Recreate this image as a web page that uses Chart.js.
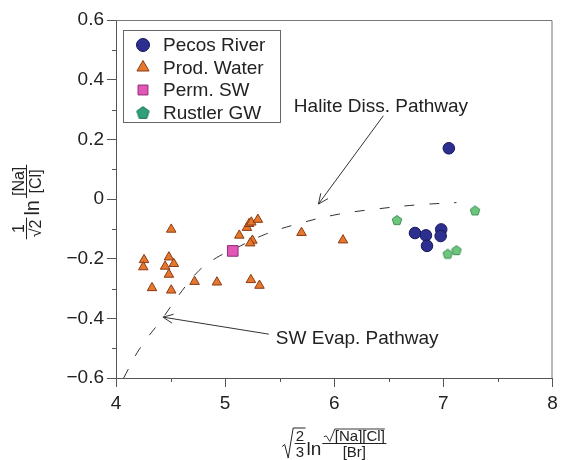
<!DOCTYPE html>
<html>
<head>
<meta charset="utf-8">
<script src="https://cdn.jsdelivr.net/npm/chart.js@4.4.1/dist/chart.umd.min.js"></script>
<style>
  body { margin: 0; background: #fff; }
  canvas { display: block; }
</style>
</head>
<body>
<canvas id="chart" width="561" height="460"></canvas>
<script>
// values
const pecosX = [7.05, 6.74, 6.84, 6.85, 6.98, 6.975];
const pecosY = [0.170, -0.114, -0.122, -0.157, -0.102, -0.124];

const prodX = [4.506, 4.257, 4.25, 4.485, 4.45, 4.53, 4.485, 4.33, 4.506, 4.72, 4.925,
               5.13, 5.20, 5.22, 5.24, 5.30, 5.25, 5.23, 5.236, 5.315, 5.70, 6.08];
const prodY = [-0.102, -0.204, -0.228, -0.195, -0.226, -0.217, -0.253, -0.298, -0.306, -0.277, -0.279,
               -0.122, -0.096, -0.083, -0.078, -0.069, -0.139, -0.148, -0.271, -0.290, -0.113, -0.138];

const permX = [5.07];
const permY = [-0.174];

const rustlerX = [6.575, 7.29, 7.04, 7.12];
const rustlerY = [-0.070, -0.038, -0.183, -0.171];

// dashed evaporation / dissolution pathway
const pathX = [4.07, 4.22, 4.43, 4.58, 4.76, 4.92, 5.07, 5.37, 5.70, 6.04, 6.40, 6.75, 7.12];
const pathY = [-0.600, -0.500, -0.398, -0.320, -0.240, -0.197, -0.170, -0.118, -0.080, -0.051, -0.033, -0.020, -0.012];

const xTicks = [4, 5, 6, 7, 8];
const yTicks = [-0.6, -0.4, -0.2, 0, 0.2, 0.4, 0.6];

const notes = [
  { text: 'Halite Diss. Pathway', tx: 5.63, ty: 0.292, from: [6.45, 0.279], to: [5.855, -0.017] },
  { text: 'SW Evap. Pathway', tx: 5.465, ty: -0.487, from: [5.40, -0.453], to: [4.43, -0.396] }
];

const FONT = "'Liberation Sans', Arial, Helvetica, sans-serif";
Chart.defaults.font.family = FONT;
Chart.defaults.color = '#222';

const zip = (xs, ys) => xs.map((x, i) => ({ x: x, y: ys[i] }));

function pentagon(size, fill, stroke) {
  const c = document.createElement('canvas');
  c.width = size; c.height = size;
  const g = c.getContext('2d');
  const r = size / 2 - 1;
  g.beginPath();
  for (let i = 0; i < 5; i++) {
    const a = -Math.PI / 2 + i * 2 * Math.PI / 5;
    const px = size / 2 + r * Math.cos(a), py = size / 2 + 0.6 + r * Math.sin(a);
    i ? g.lineTo(px, py) : g.moveTo(px, py);
  }
  g.closePath();
  g.fillStyle = fill; g.fill();
  g.strokeStyle = stroke; g.lineWidth = 1; g.stroke();
  return c;
}

const pentSmall = pentagon(12, '#6cc67c', '#3d8c55');
const pentLegend = pentagon(15, '#2f9f7c', '#1d6e55');

const isMinor = (v, step) => Math.abs(Math.round(v / step)) % 2 === 1;
const fmtY = v => {
  const r = Math.round(v * 10) / 10;
  if (r === 0) return '0';
  return (r < 0 ? '\u2212' : '') + Math.abs(r).toFixed(1);
};

function arrow(ctx, x1, y1, x2, y2) {
  const a = Math.atan2(y2 - y1, x2 - x1);
  ctx.beginPath();
  ctx.moveTo(x1, y1); ctx.lineTo(x2, y2);
  ctx.moveTo(x2 - 11 * Math.cos(a - 0.42), y2 - 11 * Math.sin(a - 0.42));
  ctx.lineTo(x2, y2);
  ctx.lineTo(x2 - 11 * Math.cos(a + 0.42), y2 - 11 * Math.sin(a + 0.42));
  ctx.stroke();
}

function radical(ctx, x, top, bottom, barEnd) {
  const h = bottom - top;
  ctx.beginPath();
  ctx.moveTo(x, bottom - h * 0.38);
  ctx.lineTo(x + 2.5, bottom - h * 0.45);
  ctx.lineTo(x + 6, bottom);
  ctx.lineTo(x + 11, top);
  ctx.lineTo(barEnd, top);
  ctx.stroke();
}

// x title:  sqrt(2/3) ln ( sqrt([Na][Cl]) / [Br] )
function drawXTitle(ctx, cx, by) {
  ctx.save();
  ctx.fillStyle = '#222'; ctx.strokeStyle = '#222'; ctx.lineWidth = 1;
  ctx.textBaseline = 'alphabetic';
  const small = '15px ' + FONT, big = '19px ' + FONT;
  ctx.font = small;
  const w23 = Math.max(ctx.measureText('2').width, ctx.measureText('3').width) + 3;
  const wNum = ctx.measureText('[Na][Cl]').width;
  const wDen = ctx.measureText('[Br]').width;
  ctx.font = big;
  const wLn = ctx.measureText('ln').width;
  const wFrac = Math.max(wNum + 11, wDen) + 3;
  const W = 12 + w23 + 1 + wLn + 1 + wFrac;
  let x = cx - W / 2;

  radical(ctx, x, by - 15, by + 15, x + 12 + w23);
  ctx.font = small; ctx.textAlign = 'center';
  ctx.fillText('2', x + 12 + w23 / 2, by - 2);
  ctx.fillText('3', x + 12 + w23 / 2, by + 14);
  ctx.beginPath(); ctx.moveTo(x + 12.5, by + 0.5); ctx.lineTo(x + 12 + w23, by + 0.5); ctx.stroke();
  x += 12 + w23 + 1;

  ctx.font = big; ctx.textAlign = 'left';
  ctx.fillText('ln', x, by + 12);
  x += wLn + 1;

  ctx.beginPath(); ctx.moveTo(x, by + 0.5); ctx.lineTo(x + wFrac, by + 0.5); ctx.stroke();
  const nx = x + (wFrac - wNum - 11) / 2;
  ctx.save(); ctx.lineWidth = 0.9;
  radical(ctx, nx, by - 14, by - 1.5, nx + 11 + wNum);
  ctx.restore();
  ctx.font = small; ctx.textAlign = 'left';
  ctx.fillText('[Na][Cl]', nx + 11, by - 2.5);
  ctx.textAlign = 'center';
  ctx.fillText('[Br]', x + wFrac / 2, by + 14);
  ctx.restore();
}

// y title (rotated):  1/sqrt2 ln ([Na]/[Cl])
function drawYTitle(ctx, sx, sy) {
  ctx.save();
  ctx.translate(sx, sy);
  ctx.rotate(-Math.PI / 2);
  ctx.fillStyle = '#222'; ctx.strokeStyle = '#222'; ctx.lineWidth = 1;
  const small = '16px ' + FONT, big = '20px ' + FONT;
  ctx.font = small;
  const wA = ctx.measureText('\u221A2').width + 4;
  const wB = Math.max(ctx.measureText('[Na]').width, ctx.measureText('[Cl]').width) + 4;
  ctx.font = big;
  const wLn = ctx.measureText('ln').width;
  const W = wA + 2 + wLn + 2 + wB;
  let u = -W / 2;

  ctx.beginPath(); ctx.moveTo(u, 0.5); ctx.lineTo(u + wA, 0.5); ctx.stroke();
  ctx.font = small; ctx.textAlign = 'center';
  ctx.fillText('1', u + wA / 2, -2);
  ctx.fillText('\u221A2', u + wA / 2, 15);
  u += wA + 2;

  ctx.font = big; ctx.textAlign = 'left';
  ctx.fillText('ln', u, 13);
  u += wLn + 2;

  ctx.beginPath(); ctx.moveTo(u, 0.5); ctx.lineTo(u + wB, 0.5); ctx.stroke();
  ctx.font = small; ctx.textAlign = 'center';
  ctx.fillText('[Na]', u + wB / 2, -2);
  ctx.fillText('[Cl]', u + wB / 2, 15);
  ctx.restore();
}

const decor = {
  id: 'decor',
  afterDraw(chart) {
    const ctx = chart.ctx;
    const xs = chart.scales.x, ys = chart.scales.y;
    const a = chart.chartArea;

    ctx.save();
    // frame top / right
    ctx.strokeStyle = '#777'; ctx.lineWidth = 1;
    ctx.beginPath();
    ctx.moveTo(a.left, a.top + 0.5); ctx.lineTo(a.right - 0.5, a.top + 0.5); ctx.lineTo(a.right - 0.5, a.bottom);
    ctx.stroke();

    // minor ticks
    ctx.strokeStyle = '#555';
    ctx.beginPath();
    ys.ticks.forEach(t => {
      if (!isMinor(t.value, 0.1)) return;
      const py = Math.round(ys.getPixelForValue(t.value)) + 0.5;
      ctx.moveTo(a.left - 4, py); ctx.lineTo(a.left, py);
    });
    xs.ticks.forEach(t => {
      if (!isMinor(t.value, 0.5)) return;
      const px = Math.round(xs.getPixelForValue(t.value)) + 0.5;
      ctx.moveTo(px, a.bottom); ctx.lineTo(px, a.bottom + 4);
    });
    ctx.stroke();

    // annotations
    ctx.strokeStyle = '#333'; ctx.lineWidth = 1;
    ctx.fillStyle = '#222';
    ctx.font = '19px ' + FONT;
    ctx.textBaseline = 'alphabetic'; ctx.textAlign = 'left';
    notes.forEach(n => {
      ctx.fillText(n.text, xs.getPixelForValue(n.tx), ys.getPixelForValue(n.ty));
      arrow(ctx, xs.getPixelForValue(n.from[0]), ys.getPixelForValue(n.from[1]),
                 xs.getPixelForValue(n.to[0]), ys.getPixelForValue(n.to[1]));
    });

    // legend box in the upper left
    const lx = a.left + 7, ly = a.top + 10, lw = 157, lh = 92;
    ctx.strokeStyle = '#666';
    ctx.strokeRect(lx + 0.5, ly + 0.5, lw, lh);
    const items = chart.data.datasets.filter(d => d.inLegend);
    items.forEach((d, i) => {
      const cy = ly + 15 + i * 22.5;
      ctx.fillStyle = d.backgroundColor;
      ctx.strokeStyle = d.borderColor;
      ctx.lineWidth = 1;
      Chart.helpers.drawPoint(ctx, {
        pointStyle: d.legendStyle || d.pointStyle,
        radius: d.legendRadius, rotation: 0, borderWidth: 1
      }, lx + 20, cy);
      ctx.fillStyle = '#222';
      ctx.textBaseline = 'middle';
      ctx.fillText(d.label, lx + 40, cy + 1);
    });
    ctx.restore();

    drawXTitle(ctx, (a.left + a.right) / 2, 443);
    drawYTitle(ctx, 26, (a.top + a.bottom) / 2 + 3);
  }
};

new Chart(document.getElementById('chart'), {
  type: 'scatter',
  data: {
    datasets: [
      {
        label: 'Pecos River', inLegend: true, data: zip(pecosX, pecosY),
        pointStyle: 'circle', pointRadius: 5.8, legendRadius: 6.5,
        backgroundColor: '#2c2f8f', borderColor: '#17175a', borderWidth: 1, order: 1
      },
      {
        label: 'Prod. Water', inLegend: true, data: zip(prodX, prodY),
        pointStyle: 'triangle', pointRadius: 5.5, legendRadius: 7,
        backgroundColor: '#e6782e', borderColor: '#8a3a14', borderWidth: 1, order: 1
      },
      {
        label: 'Perm. SW', inLegend: true, data: zip(permX, permY),
        pointStyle: 'rect', pointRadius: 7.5, legendRadius: 7,
        backgroundColor: '#e257b6', borderColor: '#8c2e78', borderWidth: 1, order: 1
      },
      {
        label: 'Rustler GW', inLegend: true, data: zip(rustlerX, rustlerY),
        pointStyle: pentSmall, legendStyle: pentLegend, pointRadius: 6, legendRadius: 7,
        backgroundColor: '#2f9f7c', borderColor: '#1d6e55', borderWidth: 1, order: 1
      },
      {
        label: 'Pathway', data: zip(pathX, pathY),
        showLine: true, tension: 0.4, pointRadius: 0, pointHoverRadius: 0,
        borderColor: '#333', borderWidth: 1, borderDash: [10, 15], order: 2
      }
    ]
  },
  options: {
    responsive: false,
    animation: false,
    layout: { padding: { left: 0, top: 20, right: -4, bottom: 0 } },
    plugins: { legend: { display: false }, tooltip: { enabled: false } },
    scales: {
      x: {
        type: 'linear', min: xTicks[0], max: xTicks[xTicks.length - 1],
        afterFit: s => { s.height = 82; s.paddingLeft = 0; s.paddingRight = 0; },
        border: { color: '#555', width: 1 },
        grid: {
          drawOnChartArea: false, tickLength: 9,
          tickColor: c => isMinor(c.tick.value, 0.5) ? 'rgba(0,0,0,0)' : '#555'
        },
        ticks: {
          stepSize: 0.5, padding: 5, color: '#222', font: { size: 19 }, maxRotation: 0,
          callback: v => xTicks.includes(v) ? String(v) : ''
        }
      },
      y: {
        type: 'linear', min: yTicks[0], max: yTicks[yTicks.length - 1],
        afterFit: s => { s.width = 116; },
        border: { color: '#555', width: 1 },
        grid: {
          drawOnChartArea: false, tickLength: 9,
          tickColor: c => isMinor(c.tick.value, 0.1) ? 'rgba(0,0,0,0)' : '#555'
        },
        ticks: {
          stepSize: 0.1, padding: 3, color: '#222', font: { size: 19 },
          callback: v => isMinor(v, 0.1) ? '' : fmtY(v)
        }
      }
    }
  },
  plugins: [decor]
});
</script>
</body>
</html>
